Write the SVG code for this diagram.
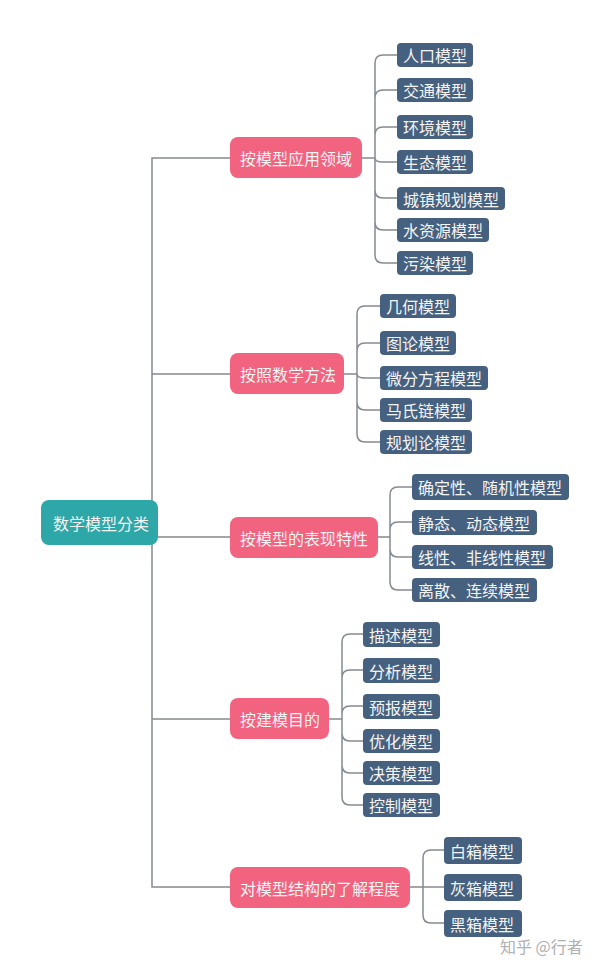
<svg xmlns="http://www.w3.org/2000/svg" width="608" height="975" viewBox="0 0 608 975">
<style>
.c{fill:none;stroke:#858b91;stroke-width:1.5}
.root{fill:#2ea7a8}
.mid{fill:#f1637f}
.leaf{fill:#46607f}
text{font-family:"Noto Sans CJK SC","Microsoft YaHei",sans-serif;font-size:16px;fill:#f4f4f4;dominant-baseline:central}
.wm{fill:#b0b0b0;font-size:16px}
</style>
<rect width="608" height="975" fill="#ffffff"/>
<g id="connectors">
<path class="c" d="M230 158 H152 V887 H230 M152 374 H230 M152 537 H230 M152 719 H230"/>
<path class="c" d="M362 158 H375 M375 158 V63 Q375 55 383 55 H397 M375 158 V98 Q375 90 383 90 H397 M375 158 V135 Q375 127 383 127 H397 M375 158 Q375 162 383 162 H397 M375 158 V190 Q375 198 383 198 H397 M375 158 V222 Q375 230 383 230 H397 M375 158 V255 Q375 263 383 263 H397"/>
<path class="c" d="M343 374 H357 M357 374 V314 Q357 306 365 306 H380 M357 374 V351 Q357 343 365 343 H380 M357 374 Q357 378 365 378 H380 M357 374 V402 Q357 410 365 410 H380 M357 374 V434 Q357 442 365 442 H380"/>
<path class="c" d="M377 537 H390 M390 537 V495 Q390 487 398 487 H412 M390 537 V530 Q390 522 398 522 H412 M390 537 V549 Q390 557 398 557 H412 M390 537 V582 Q390 590 398 590 H412"/>
<path class="c" d="M328 719 H342 M342 719 V642 Q342 634 350 634 H363 M342 719 V678 Q342 670 350 670 H363 M342 719 V714 Q342 706 350 706 H363 M342 719 V733 Q342 741 350 741 H363 M342 719 V765 Q342 773 350 773 H363 M342 719 V797 Q342 805 350 805 H363"/>
<path class="c" d="M409 887 H444 M423 887 V858 Q423 850 431 850 H444 M423 887 V915 Q423 923 431 923 H444"/>
</g>
<g id="root"><rect class="root" x="41" y="500" width="117" height="45" rx="8"/><text x="53" y="522.5">数学模型分类</text></g>
<g id="m1"><rect class="mid" x="230" y="137" width="132" height="41" rx="8"/><text x="240" y="157.5">按模型应用领域</text></g>
<g id="m2"><rect class="mid" x="230" y="353" width="114" height="41" rx="8"/><text x="240" y="373.5">按照数学方法</text></g>
<g id="m3"><rect class="mid" x="230" y="517" width="148" height="41" rx="8"/><text x="240" y="537.5">按模型的表现特性</text></g>
<g id="m4"><rect class="mid" x="230" y="698" width="99" height="41" rx="8"/><text x="240" y="718.5">按建模目的</text></g>
<g id="m5"><rect class="mid" x="230" y="867" width="180" height="41" rx="8"/><text x="240" y="887.5">对模型结构的了解程度</text></g>
<g id="l1a"><rect class="leaf" x="397" y="43" width="76" height="24" rx="4"/><text x="403" y="55">人口模型</text></g>
<g id="l1b"><rect class="leaf" x="397" y="78" width="76" height="24" rx="4"/><text x="403" y="90">交通模型</text></g>
<g id="l1c"><rect class="leaf" x="397" y="115" width="76" height="24" rx="4"/><text x="403" y="127">环境模型</text></g>
<g id="l1d"><rect class="leaf" x="397" y="150" width="76" height="24" rx="4"/><text x="403" y="162">生态模型</text></g>
<g id="l1e"><rect class="leaf" x="397" y="187" width="108" height="23" rx="4"/><text x="403" y="198.5">城镇规划模型</text></g>
<g id="l1f"><rect class="leaf" x="397" y="218" width="92" height="24" rx="4"/><text x="403" y="230">水资源模型</text></g>
<g id="l1g"><rect class="leaf" x="397" y="251" width="76" height="24" rx="4"/><text x="403" y="263">污染模型</text></g>
<g id="l2a"><rect class="leaf" x="380" y="294" width="76" height="24" rx="4"/><text x="386" y="306">几何模型</text></g>
<g id="l2b"><rect class="leaf" x="380" y="331" width="76" height="24" rx="4"/><text x="386" y="343">图论模型</text></g>
<g id="l2c"><rect class="leaf" x="380" y="366" width="108" height="24" rx="4"/><text x="386" y="378">微分方程模型</text></g>
<g id="l2d"><rect class="leaf" x="380" y="398" width="92" height="24" rx="4"/><text x="386" y="410">马氏链模型</text></g>
<g id="l2e"><rect class="leaf" x="380" y="430" width="92" height="24" rx="4"/><text x="386" y="442">规划论模型</text></g>
<g id="l3a"><rect class="leaf" x="412" y="474" width="157" height="26" rx="4"/><text x="418" y="487">确定性、随机性模型</text></g>
<g id="l3b"><rect class="leaf" x="412" y="510" width="125" height="25" rx="4"/><text x="418" y="522.5">静态、动态模型</text></g>
<g id="l3c"><rect class="leaf" x="412" y="545" width="141" height="24" rx="4"/><text x="418" y="557">线性、非线性模型</text></g>
<g id="l3d"><rect class="leaf" x="412" y="578" width="125" height="24" rx="4"/><text x="418" y="590">离散、连续模型</text></g>
<g id="l4a"><rect class="leaf" x="363" y="622" width="77" height="25" rx="4"/><text x="369" y="634.5">描述模型</text></g>
<g id="l4b"><rect class="leaf" x="363" y="658" width="77" height="25" rx="4"/><text x="369" y="670.5">分析模型</text></g>
<g id="l4c"><rect class="leaf" x="363" y="694" width="77" height="25" rx="4"/><text x="369" y="706.5">预报模型</text></g>
<g id="l4d"><rect class="leaf" x="363" y="729" width="77" height="24" rx="4"/><text x="369" y="741">优化模型</text></g>
<g id="l4e"><rect class="leaf" x="363" y="761" width="77" height="24" rx="4"/><text x="369" y="773">决策模型</text></g>
<g id="l4f"><rect class="leaf" x="363" y="793" width="77" height="24" rx="4"/><text x="369" y="805">控制模型</text></g>
<g id="l5a"><rect class="leaf" x="444" y="837" width="78" height="27" rx="4"/><text x="450" y="850.5">白箱模型</text></g>
<g id="l5b"><rect class="leaf" x="444" y="874" width="78" height="27" rx="4"/><text x="450" y="887.5">灰箱模型</text></g>
<g id="l5c"><rect class="leaf" x="444" y="910" width="78" height="27" rx="4"/><text x="450" y="923.5">黑箱模型</text></g>
<text class="wm" x="500" y="946">知乎 @行者</text>
</svg>
